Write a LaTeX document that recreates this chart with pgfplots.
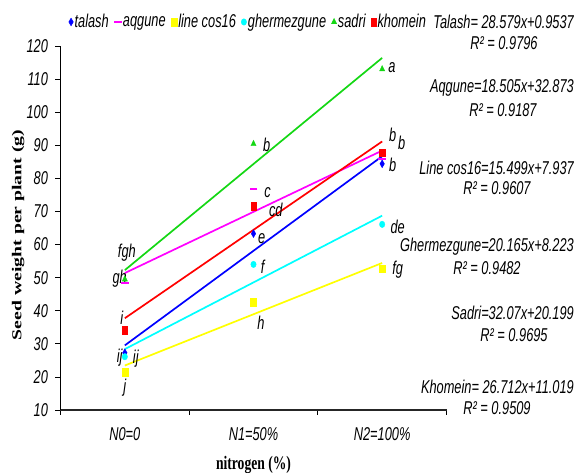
\documentclass[border=0pt]{standalone}
\usepackage{pgfplots}
\pgfplotsset{compat=1.18}
\usepackage{fontspec}
\setmainfont{Liberation Sans}
\newfontfamily\tnr{Liberation Serif}
\usepackage{graphicx}
\definecolor{cgreen}{RGB}{20,215,20}
\definecolor{cblue}{RGB}{0,0,255}
\definecolor{cmag}{RGB}{255,0,255}
\definecolor{cyel}{RGB}{255,255,0}
\definecolor{ccyan}{RGB}{0,255,255}
\definecolor{cred}{RGB}{255,0,0}
\newcommand\vs[1]{\scalebox{1}[1.45]{#1}}
\newcommand\fs{\fontsize{12.8}{14}\selectfont\itshape}
\begin{document}
\begin{tikzpicture}
\useasboundingbox (0,0) rectangle (574pt,473pt);
\begin{axis}[
 at={(60.5pt,63pt)}, anchor=south west,
 scale only axis, width=386pt, height=364pt,
 xmin=0.5, xmax=3.5, ymin=10, ymax=120,
 clip=false,
 axis x line*=bottom, axis y line*=left,
 x axis line style={-, line width=1.3pt, black!85},
 y axis line style={-, line width=0.8pt},
 xtick={0.5,1.5,2.5,3.5},
 xticklabels={\vs{N0=0},\vs{N1=50\%},\vs{N2=100\%}},
 x tick label as interval,
 ytick={10,20,...,120},
 yticklabels={\vs{10},\vs{20},\vs{30},\vs{40},\vs{50},\vs{60},\vs{70},\vs{80},\vs{90},\vs{100},\vs{110},\vs{120}},
 tick align=outside, major tick length=5pt,
 tick style={black, line width=0.8pt},
 ticklabel style={font=\fs},
 xticklabel style={yshift=-9pt},
 yticklabel style={xshift=-4pt},
 xlabel={\tnr\bfseries\fontsize{13.6}{15}\selectfont\scalebox{1}[1.4]{nitrogen (\%)}},
 ylabel={\tnr\bfseries\fontsize{13.6}{15}\selectfont\scalebox{1.45}[1]{Seed weight per plant (g)}},
 xlabel style={at={(axis description cs:0.5,-0.152)}, anchor=center},
 ylabel style={at={(axis description cs:-0.110,0.481)}, anchor=center},
 legend style={draw=none, fill=none, at={(axis description cs:0.021,1.066)}, anchor=west,
   font=\fs, inner sep=0pt, nodes={inner sep=1.3pt},
   /tikz/every even column/.append style={column sep=4pt}},
 legend columns=-1,
 legend image code/.code={\draw[#1] plot coordinates {(0pt,0pt)};},
]
% markers
\addplot[only marks, mark=diamond*, mark size=3pt, color=cblue, mark options={yscale=1.3}] coordinates {(1,27.3) (2,63.3) (3,84.4)};
\addlegendentry{\vs{talash}}
\addplot[only marks, mark=-, mark size=3.8pt, line width=2.4pt, color=cmag] coordinates {(1,48.4) (2,76.8) (3,85.8)};
\addlegendentry{\vs{aqgune}}
\addplot[only marks, mark=square*, mark size=3pt, color=cyel, mark options={yscale=1.3}] coordinates {(1,21.5) (2,42.6) (3,52.7)};
\addlegendentry{\vs{line cos16}}
\addplot[only marks, mark=*, mark size=2.7pt, color=ccyan, mark options={yscale=1.2}] coordinates {(1,26.1) (2,54.0) (3,66.1)};
\addlegendentry{\vs{ghermezgune}}
\addplot[only marks, mark=triangle*, mark size=3pt, color=cgreen, mark options={yscale=1.2}] coordinates {(1,49.5) (2,90.4) (3,113.0)};
\addlegendentry{\vs{sadri}}
\addplot[only marks, mark=square*, mark size=2.6pt, color=cred, mark options={yscale=1.45}] coordinates {(1,34.1) (2,71.6) (3,87.8)};
\addlegendentry{\vs{khomein}}
% trendlines
\addplot[forget plot, no marks, line width=1.7pt, color=cgreen] coordinates {(1,52.27) (3,116.41)};
\addplot[forget plot, no marks, line width=1.7pt, color=cmag] coordinates {(1,51.38) (3,88.39)};
\addplot[forget plot, no marks, line width=1.7pt, color=cred] coordinates {(1,37.73) (3,91.15)};
\addplot[forget plot, no marks, line width=1.7pt, color=cblue] coordinates {(1,29.53) (3,86.69)};
\addplot[forget plot, no marks, line width=1.7pt, color=ccyan] coordinates {(1,28.39) (3,68.72)};
\addplot[forget plot, no marks, line width=1.7pt, color=cyel] coordinates {(1,23.44) (3,54.43)};
% letters
\begin{scope}[every node/.style={font=\fs, inner sep=0pt}]
\node at (axis cs:1.016,57.4) {\vs{fgh}};
\node at (axis cs:0.96,49.6) {\vs{gh}};
\node at (axis cs:0.977,37.8) {\vs{i}};
\node at (axis cs:0.96,25.7) {\vs{ij}};
\node at (axis cs:1.085,25.4) {\vs{ij}};
\node at (axis cs:1.0,16.6) {\vs{j}};
\node at (axis cs:2.103,90.1) {\vs{b}};
\node at (axis cs:2.11,75.6) {\vs{c}};
\node at (axis cs:2.173,70.4) {\vs{cd}};
\node at (axis cs:2.064,61.7) {\vs{e}};
\node at (axis cs:2.072,53.2) {\vs{f}};
\node at (axis cs:2.057,36.3) {\vs{h}};
\node at (axis cs:3.075,113.4) {\vs{a}};
\node at (axis cs:3.082,93.1) {\vs{b}};
\node at (axis cs:3.152,90.7) {\vs{b}};
\node at (axis cs:3.082,84.0) {\vs{b}};
\node at (axis cs:3.121,65.3) {\vs{de}};
\node at (axis cs:3.121,52.3) {\vs{fg}};
\end{scope}
\end{axis}
\begin{scope}[every node/.style={font=\fs, inner sep=0pt}]
\node[anchor=east] at (574pt,451.3pt) {\vs{Talash= 28.579x+0.9537}};
\node at (504pt,430pt) {\vs{R² = 0.9796}};
\node[anchor=east] at (574pt,385pt) {\vs{Aqgune=18.505x+32.873}};
\node at (503pt,363pt) {\vs{R² = 0.9187}};
\node[anchor=east] at (574pt,305pt) {\vs{Line cos16=15.499x+7.937}};
\node at (497pt,285pt) {\vs{R² = 0.9607}};
\node[anchor=east] at (574pt,226pt) {\vs{Ghermezgune=20.165x+8.223}};
\node at (487pt,205pt) {\vs{R² = 0.9482}};
\node[anchor=east] at (574pt,160pt) {\vs{Sadri=32.07x+20.199}};
\node at (514pt,138pt) {\vs{R² = 0.9695}};
\node[anchor=east] at (574pt,86pt) {\vs{Khomein= 26.712x+11.019}};
\node at (497pt,65pt) {\vs{R² = 0.9509}};
\end{scope}
\end{tikzpicture}
\end{document}
